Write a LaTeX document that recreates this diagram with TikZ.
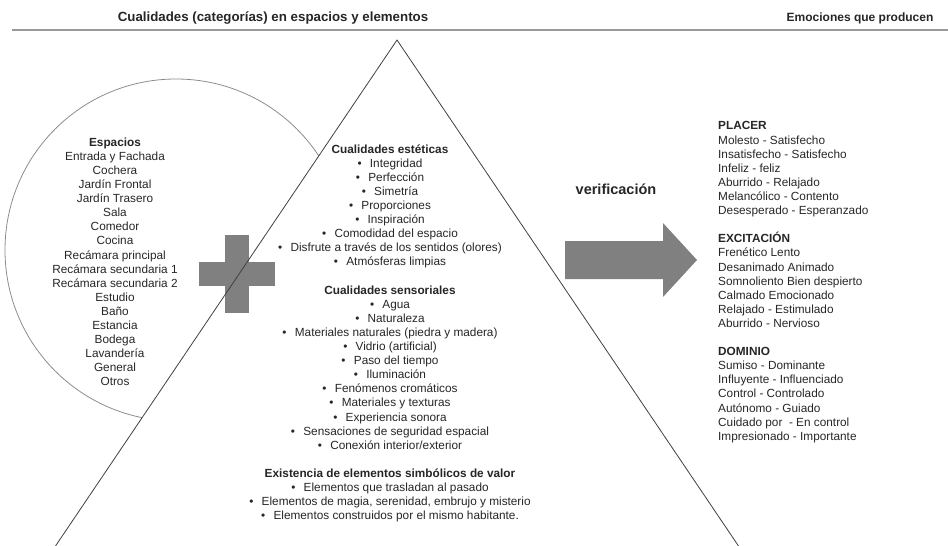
\documentclass[tikz,border=0pt]{standalone}
\usepackage{fontspec}
\setmainfont{Liberation Sans}
\usepackage{tikz}

\definecolor{plusgray}{HTML}{808080}
\newcommand{\bul}{\textbullet\hspace{0.7em}}

\begin{document}
\begin{tikzpicture}[x=1pt, y=-1pt,
    txt/.style={font=\fontsize{11.8}{14.1}\selectfont, text=black!85, inner sep=0pt, align=center},
    hdr/.style={txt, font=\bfseries\fontsize{13.3}{15}\selectfont},
    lst/.style={txt, align=left},
    block/.style={fill=plusgray, draw=none}]
  \useasboundingbox (0,0) rectangle (948,546);

  % headers
  \node[hdr, anchor=base] (qual) at (273,21) {Cualidades (categorías) en espacios y elementos};
  \node[hdr, anchor=base, font=\bfseries\fontsize{12}{14}\selectfont] (emo) at (860,21) {Emociones que producen};
  \draw[black!40, line width=2pt] (12,30) -- (948,30);

  % circle and triangle
  \coordinate (apex) at (397,40);
  \coordinate (bl) at (55.5,546);
  \coordinate (br) at (738.5,546);
  \draw[black!45, line width=0.8pt] (176,250) circle[radius=171];
  \fill[white] (apex) -- (bl) -- (br) -- cycle;

  % plus
  \fill[block] (225,235) rectangle (249,313);
  \fill[block] (199,262) rectangle (275,286);
  \draw[black!75, line width=0.8pt] (bl) -- (apex) -- (br);

  % arrow
  \fill[block] (565,241) -- (663,241) -- (663,223) -- (697,260)
    -- (663,297) -- (663,279) -- (565,279) -- cycle;
  \node[txt, font=\bfseries\fontsize{14.5}{16}\selectfont, anchor=base] (verif) at (616,194) {verificación};

  \node[txt, anchor=north] (espacios) at (115,137.5) {\textbf{Espacios}\\
    Entrada y Fachada\\ Cochera\\ Jardín Frontal\\ Jardín Trasero\\ Sala\\
    Comedor\\ Cocina\\ Recámara principal\\ Recámara secundaria 1\\
    Recámara secundaria 2\\ Estudio\\ Baño\\ Estancia\\ Bodega\\
    Lavandería\\ General\\ Otros};

  \node[txt, anchor=north] (cual) at (390,144.3) {\textbf{Cualidades estéticas}\\
    \bul Integridad\\ \bul Perfección\\ \bul Simetría\\ \bul Proporciones\\
    \bul Inspiración\\ \bul Comodidad del espacio\\
    \bul Disfrute a través de los sentidos (olores)\\ \bul Atmósferas limpias\\[14.1pt]
    \textbf{Cualidades sensoriales}\\
    \bul Agua\\ \bul Naturaleza\\ \bul Materiales naturales (piedra y madera)\\
    \bul Vidrio (artificial)\\ \bul Paso del tiempo\\ \bul Iluminación\\
    \bul Fenómenos cromáticos\\ \bul Materiales y texturas\\
    \bul Experiencia sonora\\ \bul Sensaciones de seguridad espacial\\
    \bul Conexión interior/exterior\\[14.1pt]
    \textbf{Existencia de elementos simbólicos de valor}\\
    \bul Elementos que trasladan al pasado\\
    \bul Elementos de magia, serenidad, embrujo y misterio\\
    \bul Elementos construidos por el mismo habitante.};

  \node[lst, anchor=north west] (placer) at (718,121.5) {\textbf{PLACER}\\
    Molesto - Satisfecho\\ Insatisfecho - Satisfecho\\ Infeliz - feliz\\
    Aburrido - Relajado\\ Melancólico - Contento\\ Desesperado - Esperanzado\\[14.17pt]
    \textbf{EXCITACIÓN}\\
    Frenético Lento\\ Desanimado Animado\\ Somnoliento Bien despierto\\
    Calmado Emocionado\\ Relajado - Estimulado\\ Aburrido - Nervioso\\[14.17pt]
    \textbf{DOMINIO}\\
    Sumiso - Dominante\\ Influyente - Influenciado\\ Control - Controlado\\
    Autónomo - Guiado\\ Cuidado por\ \ - En control\\ Impresionado - Importante};
\end{tikzpicture}
\end{document}
